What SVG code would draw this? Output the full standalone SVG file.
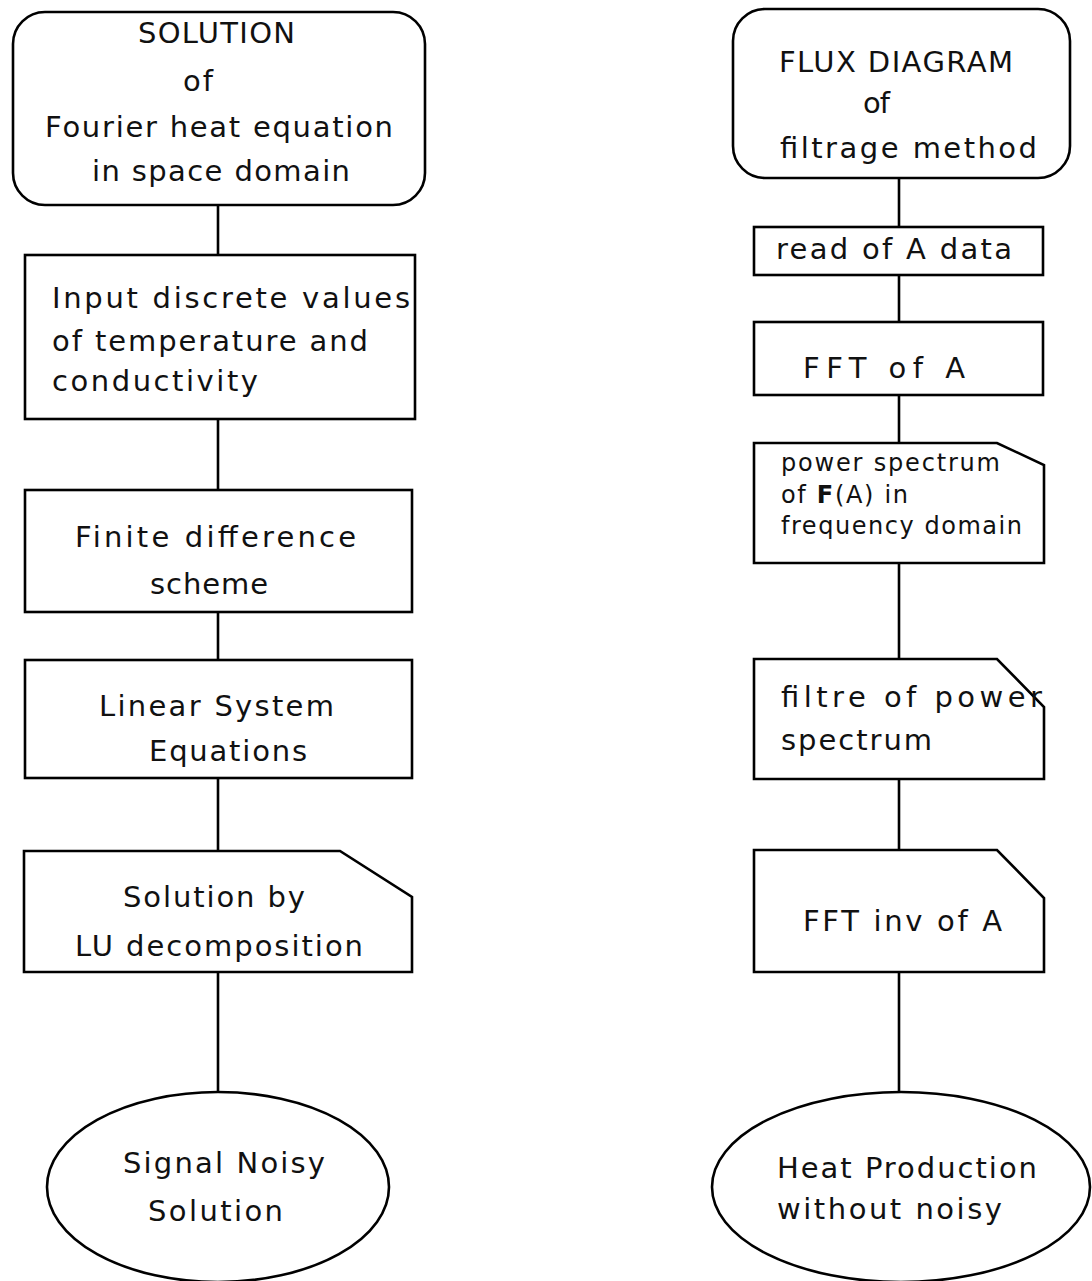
<svg xmlns="http://www.w3.org/2000/svg" width="1092" height="1281" viewBox="0 0 1092 1281">
<style>
.s{fill:#fff;stroke:#000;stroke-width:2.6}
.c{stroke:#000;stroke-width:2.6;fill:none}
text{font-family:"DejaVu Sans","Liberation Sans",sans-serif;font-size:29px;fill:#111}
.sm{font-size:24px}
</style>
<rect width="1092" height="1281" fill="#fff"/>
<g id="connectors">
<line class="c" x1="218" y1="205" x2="218" y2="255"/>
<line class="c" x1="218" y1="419" x2="218" y2="490"/>
<line class="c" x1="218" y1="612" x2="218" y2="660"/>
<line class="c" x1="218" y1="778" x2="218" y2="851"/>
<line class="c" x1="218" y1="972" x2="218" y2="1092"/>
<line class="c" x1="899" y1="178" x2="899" y2="227"/>
<line class="c" x1="899" y1="275" x2="899" y2="322"/>
<line class="c" x1="899" y1="395" x2="899" y2="443"/>
<line class="c" x1="899" y1="563" x2="899" y2="659"/>
<line class="c" x1="899" y1="779" x2="899" y2="850"/>
<line class="c" x1="899" y1="972" x2="899" y2="1093"/>
</g>
<g id="n1">
<rect class="s" x="13" y="12" width="412" height="193" rx="32"/>
<text x="138" y="43" textLength="157" lengthAdjust="spacing">SOLUTION</text>
<text x="183" y="91" textLength="30" lengthAdjust="spacing">of</text>
<text x="45" y="137" textLength="348" lengthAdjust="spacing">Fourier heat equation</text>
<text x="92" y="181" textLength="258" lengthAdjust="spacing">in space domain</text>
</g>
<g id="n2">
<rect class="s" x="25" y="255" width="390" height="164"/>
<text x="52" y="308" textLength="358" lengthAdjust="spacing">Input discrete values</text>
<text x="52" y="351" textLength="316" lengthAdjust="spacing">of temperature and</text>
<text x="52" y="391" textLength="206" lengthAdjust="spacing">conductivity</text>
</g>
<g id="n3">
<rect class="s" x="25" y="490" width="387" height="122"/>
<text x="75" y="547" textLength="281" lengthAdjust="spacing">Finite difference</text>
<text x="150" y="594" textLength="118" lengthAdjust="spacing">scheme</text>
</g>
<g id="n4">
<rect class="s" x="25" y="660" width="387" height="118"/>
<text x="99" y="716" textLength="235" lengthAdjust="spacing">Linear System</text>
<text x="149" y="761" textLength="158" lengthAdjust="spacing">Equations</text>
</g>
<g id="n5">
<path class="s" d="M24,851 H340 L412,897 V972 H24 Z"/>
<text x="123" y="907" textLength="182" lengthAdjust="spacing">Solution by</text>
<text x="75" y="956" textLength="288" lengthAdjust="spacing">LU decomposition</text>
</g>
<g id="n6">
<ellipse class="s" cx="218" cy="1187" rx="171" ry="95"/>
<text x="123" y="1173" textLength="202" lengthAdjust="spacing">Signal Noisy</text>
<text x="148" y="1221" textLength="135" lengthAdjust="spacing">Solution</text>
</g>
<g id="r1">
<rect class="s" x="733" y="9" width="337" height="169" rx="32"/>
<text x="779" y="72" textLength="234" lengthAdjust="spacing">FLUX DIAGRAM</text>
<text x="863" y="113" textLength="27" lengthAdjust="spacing">of</text>
<text x="780" y="158" textLength="257" lengthAdjust="spacing">filtrage method</text>
</g>
<g id="r2">
<rect class="s" x="754" y="227" width="289" height="48"/>
<text x="776" y="259" textLength="236" lengthAdjust="spacing">read of A data</text>
</g>
<g id="r3">
<rect class="s" x="754" y="322" width="289" height="73"/>
<text x="803" y="378" textLength="162" lengthAdjust="spacing">FFT of A</text>
</g>
<g id="r4">
<path class="s" d="M754,443 H997 L1044,465 V563 H754 Z"/>
<text class="sm" x="781" y="471" textLength="219" lengthAdjust="spacing">power spectrum</text>
<text class="sm" x="781" y="503" textLength="127" lengthAdjust="spacing">of <tspan font-weight="bold">F</tspan>(A) in</text>
<text class="sm" x="781" y="534" textLength="241" lengthAdjust="spacing">frequency domain</text>
</g>
<g id="r5">
<path class="s" d="M754,659 H997 L1044,707 V779 H754 Z"/>
<text x="781" y="707" textLength="261" lengthAdjust="spacing">filtre of power</text>
<text x="781" y="750" textLength="151" lengthAdjust="spacing">spectrum</text>
</g>
<g id="r6">
<path class="s" d="M754,850 H997 L1044,898 V972 H754 Z"/>
<text x="803" y="931" textLength="199" lengthAdjust="spacing">FFT inv of A</text>
</g>
<g id="r7">
<ellipse class="s" cx="901" cy="1187" rx="189" ry="95"/>
<text x="777" y="1178" textLength="260" lengthAdjust="spacing">Heat Production</text>
<text x="777" y="1219" textLength="225" lengthAdjust="spacing">without noisy</text>
</g>
</svg>
